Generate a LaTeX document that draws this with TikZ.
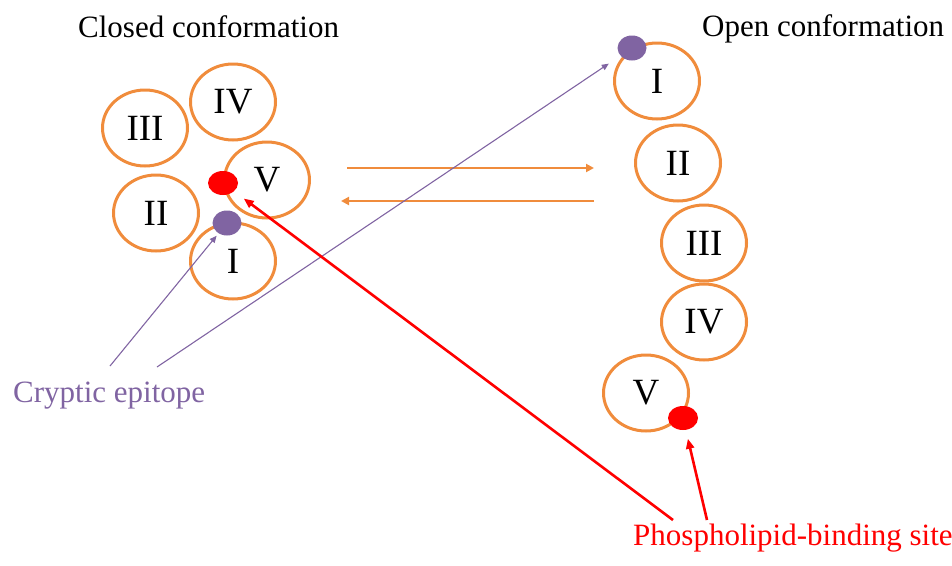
\documentclass[tikz,border=0pt]{standalone}
\usepackage{fontspec}
\setmainfont{Liberation Serif}
\usepackage{tikz}
\usetikzlibrary{arrows.meta, shapes.geometric}
\usepackage{xcolor}
\definecolor{domOrange}{RGB}{240,140,60}
\definecolor{epiPurple}{RGB}{128,100,162}
\definecolor{siteRed}{RGB}{255,0,0}

\begin{document}
\begin{tikzpicture}[x=1pt, y=-1pt,
    domainNode/.style={ellipse, draw=domOrange, line width=3pt, minimum width=85pt, minimum height=76pt, inner sep=0pt, font=\fontsize{37}{40}\selectfont},
    epiDot/.style={ellipse, fill=epiPurple, minimum width=29pt, minimum height=25pt, inner sep=0pt},
    siteDot/.style={ellipse, fill=siteRed, minimum width=30pt, minimum height=24pt, inner sep=0pt},
    titleText/.style={anchor=base west, inner sep=0pt, font=\fontsize{31}{36}\selectfont},
    shiftRel/.style={-{Triangle[length=8pt, width=8pt]}, domOrange, line width=2pt},
    epiRel/.style={-{Triangle[length=7pt, width=6pt]}, epiPurple, line width=1.1pt},
    siteRel/.style={-{Triangle[length=10pt, width=8pt]}, siteRed, line width=2.6pt}
]
    \useasboundingbox (0,0) rectangle (952,565);

    % Titles and Labels
    \node[titleText] (closedTitle) at (78,37) {Closed conformation};
    \node[titleText] (openTitle) at (702,36) {Open conformation};
    \node[titleText, text=epiPurple] (cryptic) at (13,402) {Cryptic epitope};
    \node[titleText, text=siteRed] (phospho) at (633,545) {Phospholipid-binding site};

    % Closed conformation (domains packed together)
    \node[domainNode] (cIII) at (145,128) {III};
    \node[domainNode] (cIV)  at (233,102) {IV};
    \node[domainNode] (cV)   at (267,180) {V};
    \node[domainNode] (cII)  at (156,213) {II};
    \node[domainNode] (cI)   at (233,261) {I};
    \node[siteDot] (cSite) at (223,183) {};
    \node[epiDot]  (cEpi)  at (227,223) {};

    % Open conformation (domains in a chain)
    \node[domainNode] (oI)   at (657,81)  {I};
    \node[domainNode] (oII)  at (678,163) {II};
    \node[domainNode] (oIII) at (704,243) {III};
    \node[domainNode] (oIV)  at (704,322) {IV};
    \node[domainNode] (oV)   at (646,393) {V};
    \node[epiDot]  (oEpi)  at (632,48)  {};
    \node[siteDot] (oSite) at (683,418) {};

    % Free ends of the pointers
    \coordinate (fwdStart) at (347,168);
    \coordinate (fwdEnd)   at (594,168);
    \coordinate (revStart) at (594,201);
    \coordinate (revEnd)   at (341,201);
    \coordinate (epiFootA) at (110,366);
    \coordinate (epiFootB) at (157,367);
    \coordinate (siteFootA) at (673,520);
    \coordinate (siteFootB) at (707,520);

    % Equilibrium between conformations
    \draw[shiftRel] (fwdStart) -- (fwdEnd);
    \draw[shiftRel] (revStart) -- (revEnd);

    % Pointers to the sites
    \draw[epiRel, shorten >=3pt] (epiFootA) -- (cEpi);
    \draw[epiRel, shorten >=14pt] (epiFootB) -- (oEpi);
    \draw[siteRel, shorten >=12pt] (siteFootA) -- (cSite);
    \draw[siteRel, shorten >=9pt] (siteFootB) -- (oSite);
\end{tikzpicture}
\end{document}
